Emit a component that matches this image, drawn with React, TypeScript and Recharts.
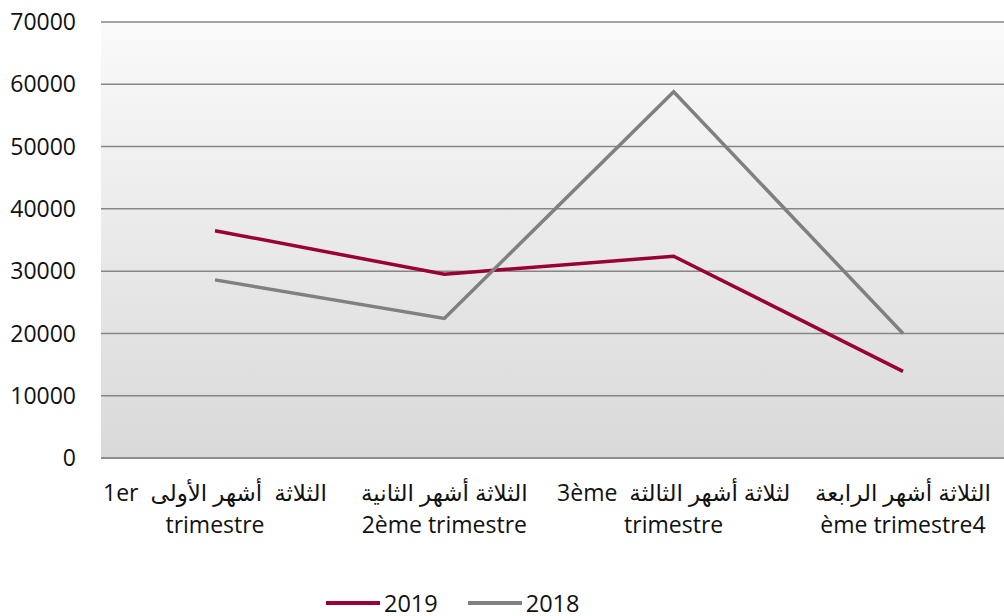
import React from 'react';
import { LineChart, Line, XAxis, YAxis, CartesianGrid } from 'recharts';

const quarterArabic = [
  '1er\u00a0 الثلاثة\u00a0 أشهر الأولى',
  'الثلاثة أشهر الثانية',
  '3ème\u00a0 لثلاثة أشهر الثالثة',
  'الثلاثة أشهر الرابعة',
];
const quarterFrench = ['trimestre', '2ème trimestre', 'trimestre', 'ème trimestre4'];
const values2019 = [36500, 29500, 32400, 13900];
const values2018 = [28600, 22400, 58800, 20000];
const yTicks = [0, 10000, 20000, 30000, 40000, 50000, 60000, 70000];
const seriesNames = ['2019', '2018'];
const seriesColors = ['#990033', '#808080'];

const data = quarterArabic.map((q, i) => ({
  q,
  y2019: values2019[i],
  y2018: values2018[i],
}));

const FONT = '"Open Sans", "DejaVu Sans", sans-serif';

const QuarterTick = (props: any) => {
  const { x, y, payload, index } = props;
  return (
    <text x={x} y={y} textAnchor="middle" fontFamily={FONT} fontSize={23} fill="#111">
      <tspan x={x} dy={35}>{payload.value}</tspan>
      <tspan x={x} dy={32}>{quarterFrench[index]}</tspan>
    </text>
  );
};

const App = () => {
  return (
    <div style={{ position: 'absolute', left: 0, top: 0, width: 1004, height: 616, overflow: 'hidden', background: '#fff' }}>
      <LineChart width={1017} height={616} data={data} margin={{ top: 22, right: 0, left: 0, bottom: 0 }}>
        <defs>
          <linearGradient id="plotBg" x1="0" y1="0" x2="0" y2="1">
            <stop offset="0%" stopColor="#fafafa" />
            <stop offset="100%" stopColor="#d9d9d9" />
          </linearGradient>
        </defs>
        <CartesianGrid vertical={false} stroke="#868686" strokeWidth={1.5} fill="url(#plotBg)" />
        <XAxis
          dataKey="q"
          height={158}
          padding={{ left: 114, right: 114 }}
          axisLine={{ stroke: '#868686', strokeWidth: 1.5 }}
          tickLine={false}
          interval={0}
          tick={<QuarterTick />}
        />
        <YAxis
          width={101}
          domain={[0, 70000]}
          ticks={yTicks}
          axisLine={false}
          tickLine={false}
          tickSize={0}
          tickMargin={25}
          tick={{ fontFamily: FONT, fontSize: 23, fill: '#111' }}
        />
        <Line type="linear" dataKey="y2019" name="2019" stroke={seriesColors[0]} strokeWidth={3.5} dot={false} isAnimationActive={false} />
        <Line type="linear" dataKey="y2018" name="2018" stroke={seriesColors[1]} strokeWidth={3.5} dot={false} isAnimationActive={false} />
      </LineChart>
      <div
        style={{
          position: 'absolute',
          left: 326,
          top: 593,
          height: 20,
          display: 'flex',
          alignItems: 'center',
          fontFamily: FONT,
          fontSize: 23.5,
          lineHeight: '20px',
          color: '#111',
        }}
      >
        {seriesNames.map((name, i) => (
          <React.Fragment key={name}>
            <span style={{ display: 'inline-block', width: 54, height: 3.5, background: seriesColors[i], marginRight: 4 }} />
            <span style={{ marginRight: 30 }}>{name}</span>
          </React.Fragment>
        ))}
      </div>
    </div>
  );
};

export default App;
